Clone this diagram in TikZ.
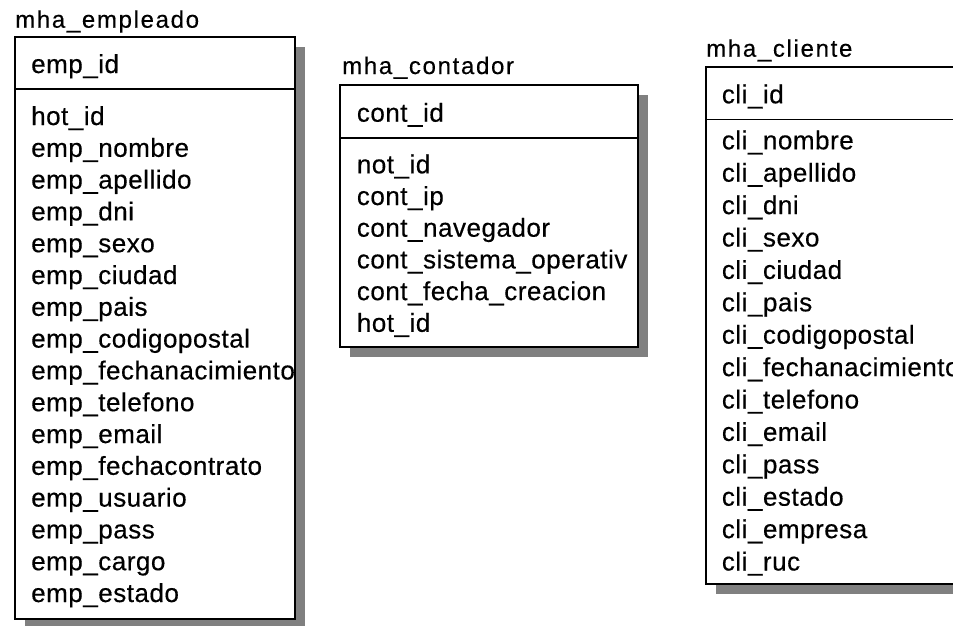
\documentclass[tikz,border=0pt]{standalone}
\usepackage{fontspec}
\setmainfont{Liberation Sans}
\newfontfamily\ttlfam{Liberation Sans}[LetterSpace=7,FakeBold=0.4]
\newfontfamily\fldfam{Liberation Sans}[LetterSpace=2,FakeBold=0.4]
\newcommand\ttlfont{\ttlfam\fontsize{24}{27}\selectfont}
\newcommand\fldfont{\fldfam\fontsize{26}{29}\selectfont}
\tikzset{
  ttl/.style={anchor=base west, inner sep=0pt, font=\ttlfont},
  fld/.style={anchor=base west, inner sep=0pt, font=\fldfont},
  tbox/.style={draw=black, line width=1.6pt, fill=white},
  sepline/.style={draw=black, line width=1.6pt},
  shad/.style={fill=black!50},
}
\begin{document}
\begin{tikzpicture}[x=1pt,y=-1pt]
\clip (0,0) rectangle (953,625);
\fill[white] (0,0) rectangle (953,625);
% ---------- mha_empleado ----------
\fill[shad] (25,47) rectangle (305,630);
\draw[tbox] (15,37) rectangle (295,619);
\draw[sepline] (15,89) -- (295,89);
\node[ttl] (empT) at (15,27.7) {mha\_empleado};
\begin{scope}
\clip (16,38) rectangle (294,618);
\node[fld] (empPK) at (31,73) {emp\_id};
\foreach \t [count=\i from 0] in {hot\_id,emp\_nombre,emp\_apellido,emp\_dni,emp\_sexo,emp\_ciudad,emp\_pais,emp\_codigopostal,emp\_fechanacimiento,emp\_telefono,emp\_email,emp\_fechacontrato,emp\_usuario,emp\_pass,emp\_cargo,emp\_estado}
  \node[fld] (emp\i) at (31,125+\i*31.8) {\t};
\end{scope}
% ---------- mha_contador ----------
\fill[shad] (350,95) rectangle (648,357);
\draw[tbox] (340,85) rectangle (638,347);
\draw[sepline] (340,138) -- (638,138);
\node[ttl] (conT) at (342,74) {mha\_contador};
\begin{scope}
\clip (341,86) rectangle (637,346);
\node[fld] (conPK) at (356.7,121.7) {cont\_id};
\foreach \t [count=\i from 0] in {not\_id,cont\_ip,cont\_navegador,cont\_sistema\_operativ,cont\_fecha\_creacion,hot\_id}
  \node[fld] (con\i) at (356.7,173.3+\i*31.7) {\t};
\end{scope}
% ---------- mha_cliente ----------
\fill[shad] (716,77) rectangle (975,594);
\draw[tbox] (706,67) rectangle (970,584);
\draw[sepline] (706,119.3) -- (970,119.3);
\node[ttl] (cliT) at (706,56.7) {mha\_cliente};
\begin{scope}
\clip (707,68) rectangle (969,583);
\node[fld] (cliPK) at (721.7,103.3) {cli\_id};
\foreach \t [count=\i from 0] in {cli\_nombre,cli\_apellido,cli\_dni,cli\_sexo,cli\_ciudad,cli\_pais,cli\_codigopostal,cli\_fechanacimiento,cli\_telefono,cli\_email,cli\_pass,cli\_estado,cli\_empresa,cli\_ruc}
  \node[fld] (cli\i) at (721.7,149.3+\i*32.4) {\t};
\end{scope}
\end{tikzpicture}
\end{document}
